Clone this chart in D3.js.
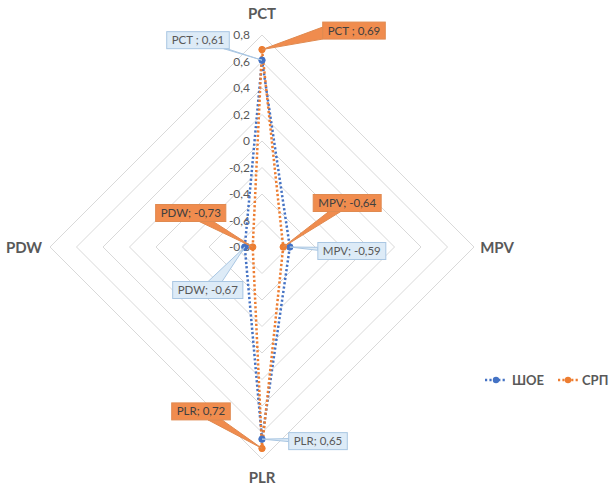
<!DOCTYPE html>
<html>
<head>
<meta charset="utf-8">
<script src="https://cdn.jsdelivr.net/npm/d3@7"></script>
<style>
  html, body { margin: 0; padding: 0; background: #fff; }
  svg { display: block; font-family: "Lato", "Open Sans", sans-serif; }
</style>
</head>
<body>
<svg id="chart" width="610" height="487"></svg>
<script>
// ---- data ----
const categories = ["PCT", "MPV", "PLR", "PDW"];
const seriesNames = ["ШОЕ", "СРП"];
const valuesSHOE = [0.61, -0.59, 0.65, -0.67];
const valuesSRP = [0.69, -0.64, 0.72, -0.73];
const tickValues = [-0.8, -0.6, -0.4, -0.2, 0, 0.2, 0.4, 0.6, 0.8];
const labelPrefixSHOE = ["PCT ; ", "MPV; ", "PLR; ", "PDW; "];
const labelPrefixSRP = ["PCT ; ", "MPV; ", "PLR; ", "PDW; "];

// ---- layout ----
const cx = 262, cy = 247, R = 212;
const colors = ["#4472C4", "#ED7D31"];
const boxFill = ["#DDEBF7", "#F08C4E"];
const boxStroke = ["#A9C6E2", "#E08A50"];
const textFill = ["#595959", "#404040"];
// label offsets (box center relative to point) & wedge widths
const labelOffsets = [
  [[-64, -20], [62, 4], [56, 2], [-37, 43]],
  [[92, -19], [64, -44], [-61, -37], [-62, -34]]
];
const wedgeW = [[3, 3, 3, 14], [12, 12, 14, 14]];

const svg = d3.select("#chart");
const r = d3.scaleLinear().domain([-0.8, 0.8]).range([0, R]);
const angle = d3.scalePoint().domain(categories.concat(["_end"])).range([0, 2 * Math.PI]);
const loc = d3.formatLocale({decimal: ",", thousands: " ", grouping: [3], currency: ["", ""], minus: "-"});
const fmt = loc.format(".2~f");
const fmtTick = loc.format(".1~f");

function pt(cat, v) {
  const a = angle(cat);
  return [cx + r(v) * Math.sin(a), cy - r(v) * Math.cos(a)];
}

// grid
const gridG = svg.append("g");
tickValues.filter(t => r(t) > 0).forEach(t => {
  const pts = categories.map(c => pt(c, t));
  gridG.append("polygon")
    .attr("points", pts.map(p => p.join(",")).join(" "))
    .attr("fill", "none").attr("stroke", "#D9D9D9").attr("stroke-width", 1);
});

// tick labels
svg.append("g").selectAll("text").data(tickValues).join("text")
  .attr("x", cx - 12).attr("y", d => cy - r(d))
  .attr("dy", "0.35em").attr("text-anchor", "end")
  .attr("font-size", 12).attr("fill", "#595959")
  .text(d => fmtTick(d));

// category labels
const catPos = {PCT: [cx, 19], MPV: [497, 253], PLR: [cx, 483], PDW: [24, 253]};
svg.append("g").selectAll("text").data(categories).join("text")
  .attr("x", d => catPos[d][0]).attr("y", d => catPos[d][1])
  .attr("text-anchor", "middle").attr("font-size", 15).attr("font-weight", "bold")
  .attr("fill", "#595959").text(d => d);

// series
const allSeries = [valuesSHOE, valuesSRP];
const line = d3.line().curve(d3.curveLinearClosed);
allSeries.forEach((vals, si) => {
  const pts = categories.map((c, i) => pt(c, vals[i]));
  svg.append("path").attr("d", line(pts))
    .attr("fill", "none").attr("stroke", colors[si]).attr("stroke-width", 2.5)
    .attr("stroke-dasharray", "2.2,2.2");
});
allSeries.forEach((vals, si) => {
  const pts = categories.map((c, i) => pt(c, vals[i]));
  svg.append("g").selectAll("circle").data(pts).join("circle")
    .attr("cx", d => d[0]).attr("cy", d => d[1]).attr("r", 3.2)
    .attr("fill", colors[si]).attr("stroke", colors[si]);
});

// data labels (callouts)
const prefixes = [labelPrefixSHOE, labelPrefixSRP];
const labG = svg.append("g");
allSeries.forEach((vals, si) => {
  categories.forEach((c, i) => {
    const p = pt(c, vals[i]);
    const off = labelOffsets[si][i];
    const bx = p[0] + off[0], by = p[1] + off[1];
    const g = labG.append("g");
    const wedge = g.append("polygon");
    const rect = g.append("rect");
    const txt = g.append("text").attr("x", bx).attr("y", by).attr("dy", "0.35em")
      .attr("text-anchor", "middle").attr("font-size", 11.5).attr("fill", textFill[si])
      .text(prefixes[si][i] + fmt(vals[i]));
    const tw = txt.node().getComputedTextLength();
    const hw = tw / 2 + 5, hh = 8.5;
    rect.attr("x", bx - hw).attr("y", by - hh).attr("width", 2 * hw).attr("height", 2 * hh)
      .attr("fill", boxFill[si]).attr("stroke", boxStroke[si]).attr("stroke-width", 1);
    // wedge
    const dx = p[0] - bx, dy = p[1] - by;
    const w = wedgeW[si][i] / 2;
    let b1, b2;
    if (Math.abs(dx) / hw > Math.abs(dy) / hh) {
      const ex = bx + Math.sign(dx) * hw;
      let ey = by + dy * hw / Math.abs(dx);
      ey = Math.max(by - hh + w, Math.min(by + hh - w, ey));
      b1 = [ex, ey - w]; b2 = [ex, ey + w];
    } else {
      const ey = by + Math.sign(dy) * hh;
      let ex = bx + dx * hh / Math.abs(dy);
      ex = Math.max(bx - hw + w, Math.min(bx + hw - w, ex));
      b1 = [ex - w, ey]; b2 = [ex + w, ey];
    }
    wedge.attr("points", [b1, p, b2].map(q => q.join(",")).join(" "))
      .attr("fill", boxFill[si]).attr("stroke", boxStroke[si]).attr("stroke-width", 1)
      .attr("stroke-linejoin", "round");
  });
});

// legend
const legend = [[485, 507, 512], [558, 578, 582]];
seriesNames.forEach((name, si) => {
  const L = legend[si], ly = 380;
  svg.append("line").attr("x1", L[0]).attr("x2", L[1]).attr("y1", ly).attr("y2", ly)
    .attr("stroke", colors[si]).attr("stroke-width", 2.5).attr("stroke-dasharray", "2.2,2.2");
  svg.append("circle").attr("cx", (L[0] + L[1]) / 2).attr("cy", ly).attr("r", 3.2).attr("fill", colors[si]);
  svg.append("text").attr("x", L[2]).attr("y", ly).attr("dy", "0.35em")
    .attr("font-size", 13).attr("font-weight", "bold").attr("fill", "#595959").text(name);
});
</script>
</body>
</html>
